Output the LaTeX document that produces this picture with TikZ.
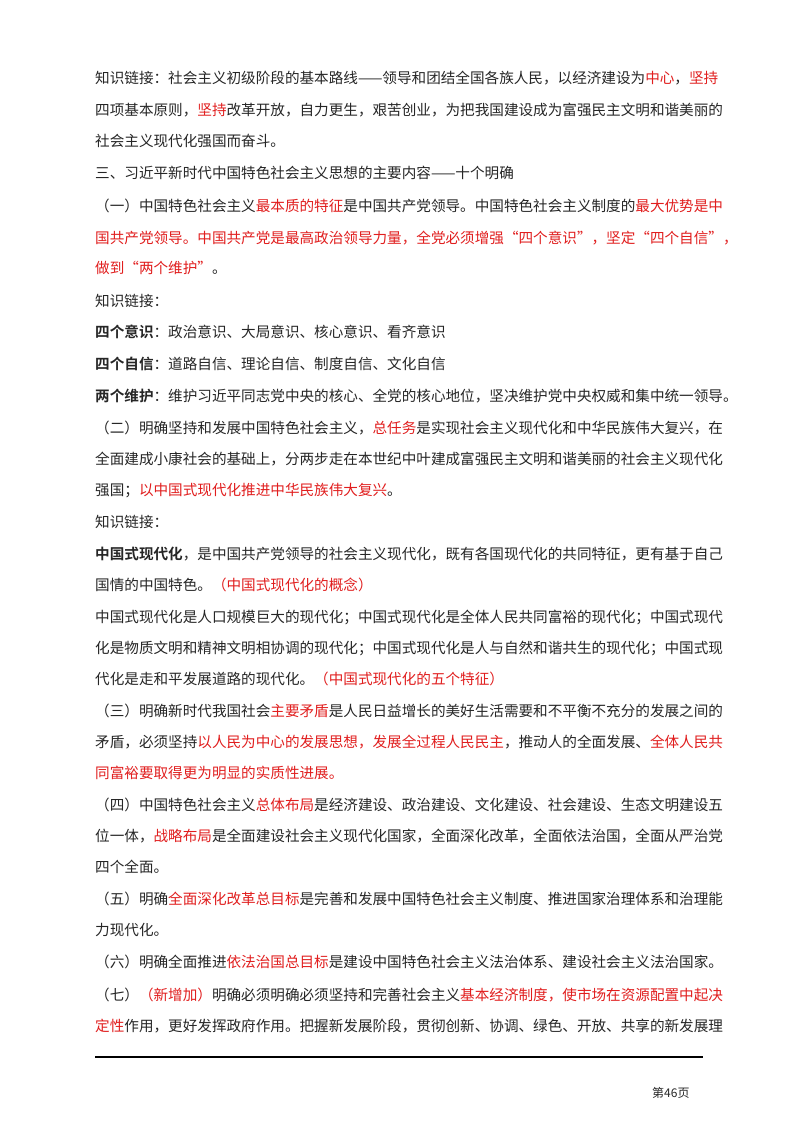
\documentclass[tikz,border=0pt]{standalone}
\usepackage{fontspec}
\setmainfont{Noto Sans CJK SC}
\newfontfamily\cjkb{Noto Sans CJK SC Bold}
\definecolor{rd}{RGB}{225,30,30}
\newcommand{\R}[1]{\textcolor{rd}{#1}}
\newcommand{\B}[1]{{\cjkb #1}}
\begin{document}
\begin{tikzpicture}[x=1pt,y=-1pt,
  ln/.style={anchor=west,inner sep=0pt,font=\fontsize{14.6}{16}\selectfont,text=black!85}]
\useasboundingbox[fill=white] (0,0) rectangle (800,1132);
\node[ln] (l1) at (95,78) {知识链接：社会主义初级阶段的基本路线——领导和团结全国各族人民，以经济建设为\R{中心}，\R{坚持}};
\node[ln] (l2) at (95,110) {四项基本原则，\R{坚持}改革开放，自力更生，艰苦创业，为把我国建设成为富强民主文明和谐美丽的};
\node[ln] (l3) at (95,141) {社会主义现代化强国而奋斗。};
\node[ln] (l4) at (95,173) {三、习近平新时代中国特色社会主义思想的主要内容——十个明确};
\node[ln] (l5) at (95,206) {（一）中国特色社会主义\R{最本质的特征}是中国共产党领导。中国特色社会主义制度的\R{最大优势是中}};
\node[ln] (l6) at (95,238) {\R{国共产党领导。中国共产党是最高政治领导力量，全党必须增强“四个意识”，坚定“四个自信”，}};
\node[ln] (l7) at (95,268) {\R{做到“两个维护”}。};
\node[ln] (l8) at (95,301) {知识链接：};
\node[ln] (l9) at (95,332) {\B{四个意识}：政治意识、大局意识、核心意识、看齐意识};
\node[ln] (l10) at (95,364) {\B{四个自信}：道路自信、理论自信、制度自信、文化自信};
\node[ln] (l11) at (95,396) {\B{两个维护}：维护习近平同志党中央的核心、全党的核心地位，坚决维护党中央权威和集中统一领导。};
\node[ln] (l12) at (95,428) {（二）明确坚持和发展中国特色社会主义，\R{总任务}是实现社会主义现代化和中华民族伟大复兴，在};
\node[ln] (l13) at (95,459) {全面建成小康社会的基础上，分两步走在本世纪中叶建成富强民主文明和谐美丽的社会主义现代化};
\node[ln] (l14) at (95,491) {强国；\R{以中国式现代化推进中华民族伟大复兴}。};
\node[ln] (l15) at (95,522) {知识链接：};
\node[ln] (l16) at (95,554) {\B{中国式现代化}，是中国共产党领导的社会主义现代化，既有各国现代化的共同特征，更有基于自己};
\node[ln] (l17) at (95,585) {国情的中国特色。\R{（中国式现代化的概念）}};
\node[ln] (l18) at (95,617) {中国式现代化是人口规模巨大的现代化；中国式现代化是全体人民共同富裕的现代化；中国式现代};
\node[ln] (l19) at (95,648) {化是物质文明和精神文明相协调的现代化；中国式现代化是人与自然和谐共生的现代化；中国式现};
\node[ln] (l20) at (95,679) {代化是走和平发展道路的现代化。\R{（中国式现代化的五个特征）}};
\node[ln] (l21) at (95,711) {（三）明确新时代我国社会\R{主要矛盾}是人民日益增长的美好生活需要和不平衡不充分的发展之间的};
\node[ln] (l22) at (95,742) {矛盾，必须坚持\R{以人民为中心的发展思想，发展全过程人民民主}，推动人的全面发展、\R{全体人民共}};
\node[ln] (l23) at (95,773) {\R{同富裕要取得更为明显的实质性进展。}};
\node[ln] (l24) at (95,805) {（四）中国特色社会主义\R{总体布局}是经济建设、政治建设、文化建设、社会建设、生态文明建设五};
\node[ln] (l25) at (95,836) {位一体，\R{战略布局}是全面建设社会主义现代化国家，全面深化改革，全面依法治国，全面从严治党};
\node[ln] (l26) at (95,867) {四个全面。};
\node[ln] (l27) at (95,899) {（五）明确\R{全面深化改革总目标}是完善和发展中国特色社会主义制度、推进国家治理体系和治理能};
\node[ln] (l28) at (95,930) {力现代化。};
\node[ln] (l29) at (95,962) {（六）明确全面推进\R{依法治国总目标}是建设中国特色社会主义法治体系、建设社会主义法治国家。};
\node[ln] (l30) at (95,995) {（七）\R{（新增加）}明确必须明确必须坚持和完善社会主义\R{基本经济制度，使市场在资源配置中起决}};
\node[ln] (l31) at (95,1026) {\R{定性}作用，更好发挥政府作用。把握新发展阶段，贯彻创新、协调、绿色、开放、共享的新发展理};
\coordinate (ra) at (95,1057);
\coordinate (rb) at (703,1057);
\draw[line width=1.2pt] (ra) -- (rb);
\node[ln,font=\fontsize{12}{14}\selectfont] (pg) at (652,1093) {第46页};
\end{tikzpicture}
\end{document}
